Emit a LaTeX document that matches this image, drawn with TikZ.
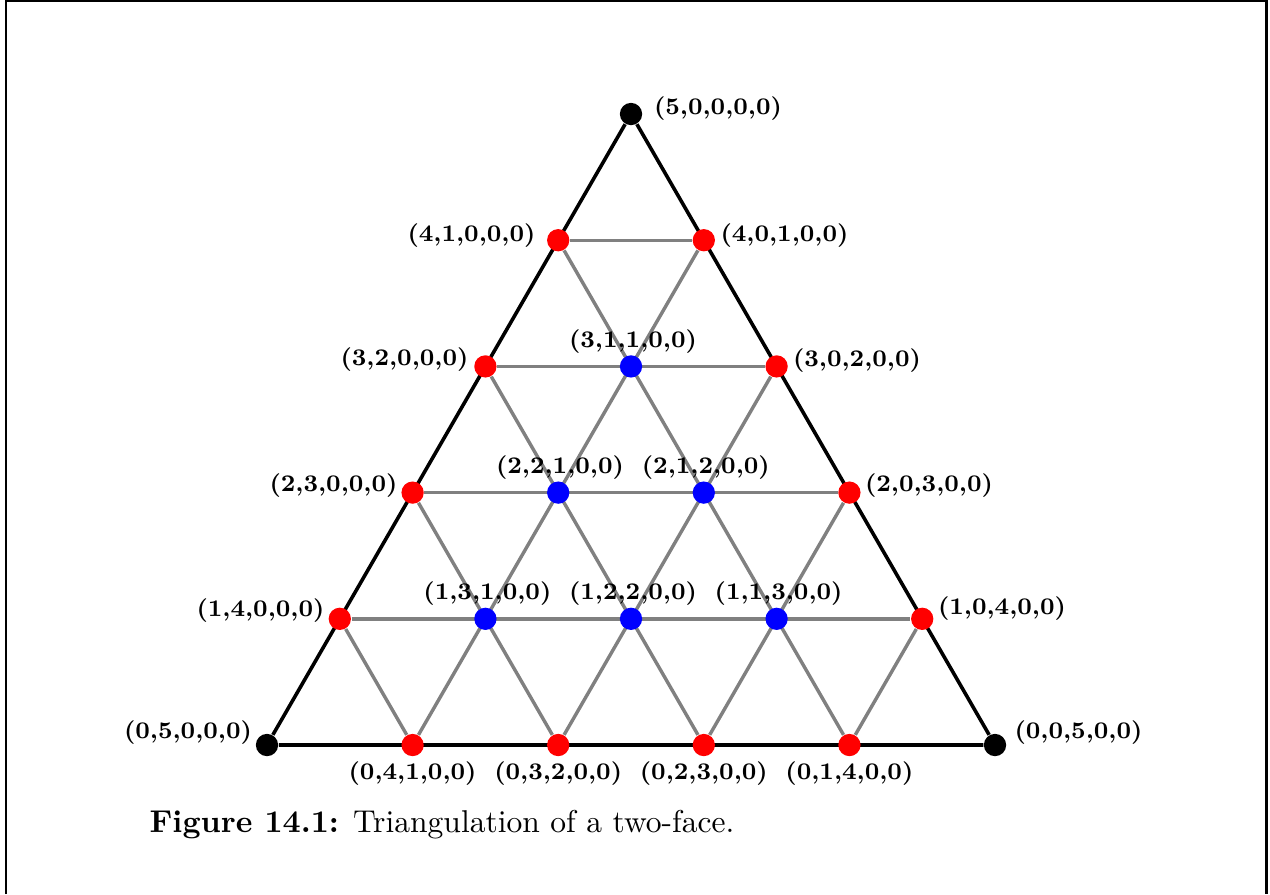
\documentclass[tikz,border=0pt]{standalone}
\usetikzlibrary{backgrounds}
\begin{document}
\begin{tikzpicture}[x=0.3217pt,y=-0.3217pt,
  dot/.style={circle,inner sep=0pt,minimum size=7.17pt},
  rdot/.style={dot,fill=red},
  bdot/.style={dot,fill=blue},
  kdot/.style={dot,fill=black},
  lbl/.style={font=\fontsize{7.65}{9}\selectfont\bfseries,inner sep=0pt},
  outer/.style={line width=1.15pt,black},
  inner/.style={line width=1.1pt,gray},
  frameline/.style={line width=0.95pt,black}]
\useasboundingbox (0,0) rectangle (1270,894);
\draw[frameline] (6,894) -- (6,1) -- (1266.5,1) -- (1266.5,894);
% vertices
\node[kdot] (n00) at (631,114) {};
\node[rdot] (n10) at (558.2,240.2) {};
\node[rdot] (n11) at (703.8,240.2) {};
\node[rdot] (n20) at (485.4,366.4) {};
\node[bdot] (n21) at (631,366.4) {};
\node[rdot] (n22) at (776.6,366.4) {};
\node[rdot] (n30) at (412.6,492.6) {};
\node[bdot] (n31) at (558.2,492.6) {};
\node[bdot] (n32) at (703.8,492.6) {};
\node[rdot] (n33) at (849.4,492.6) {};
\node[rdot] (n40) at (339.8,618.8) {};
\node[bdot] (n41) at (485.4,618.8) {};
\node[bdot] (n42) at (631,618.8) {};
\node[bdot] (n43) at (776.6,618.8) {};
\node[rdot] (n44) at (922.2,618.8) {};
\node[kdot] (n50) at (267,745) {};
\node[rdot] (n51) at (412.6,745) {};
\node[rdot] (n52) at (558.2,745) {};
\node[rdot] (n53) at (703.8,745) {};
\node[rdot] (n54) at (849.4,745) {};
\node[kdot] (n55) at (995,745) {};
% connectors
\begin{scope}[on background layer]
\draw[inner] (n10) -- (n11);
\draw[inner] (n20) -- (n22);
\draw[inner] (n30) -- (n33);
\draw[inner] (n40) -- (n44);
\draw[inner] (n51) -- (n11);
\draw[inner] (n52) -- (n22);
\draw[inner] (n53) -- (n33);
\draw[inner] (n54) -- (n44);
\draw[inner] (n51) -- (n40);
\draw[inner] (n52) -- (n30);
\draw[inner] (n53) -- (n20);
\draw[inner] (n54) -- (n10);
\draw[outer] (n00) -- (n50) -- (n55) -- (n00);
\end{scope}
% labels
\node[lbl] (l00) at (718,108.5) {(5,0,0,0,0)};
\node[lbl] (l10) at (471.5,236) {(4,1,0,0,0)};
\node[lbl] (l11) at (784.5,236) {(4,0,1,0,0)};
\node[lbl] (l20) at (404.5,360) {(3,2,0,0,0)};
\node[lbl] (l21) at (633,341.5) {(3,1,1,0,0)};
\node[lbl] (l22) at (857,361) {(3,0,2,0,0)};
\node[lbl] (l30) at (333.5,486) {(2,3,0,0,0)};
\node[lbl] (l31) at (560,467.5) {(2,2,1,0,0)};
\node[lbl] (l32) at (705.8,467.5) {(2,1,2,0,0)};
\node[lbl] (l33) at (929,486) {(2,0,3,0,0)};
\node[lbl] (l40) at (260.5,610.5) {(1,4,0,0,0)};
\node[lbl] (l41) at (487.4,593.5) {(1,3,1,0,0)};
\node[lbl] (l42) at (633,593.5) {(1,2,2,0,0)};
\node[lbl] (l43) at (778.6,593.5) {(1,1,3,0,0)};
\node[lbl] (l44) at (1002,609) {(1,0,4,0,0)};
\node[lbl] (l50) at (188,733) {(0,5,0,0,0)};
\node[lbl] (l51) at (412.6,774) {(0,4,1,0,0)};
\node[lbl] (l52) at (558.2,774) {(0,3,2,0,0)};
\node[lbl] (l53) at (703.8,774) {(0,2,3,0,0)};
\node[lbl] (l54) at (849.4,774) {(0,1,4,0,0)};
\node[lbl] (l55) at (1078.5,733) {(0,0,5,0,0)};
% caption
\node[anchor=base west,inner sep=0pt,font=\fontsize{10.15}{12}\selectfont] (cap) at (149,832) {\textbf{Figure 14.1:} Triangulation of a two-face.};
\end{tikzpicture}
\end{document}
